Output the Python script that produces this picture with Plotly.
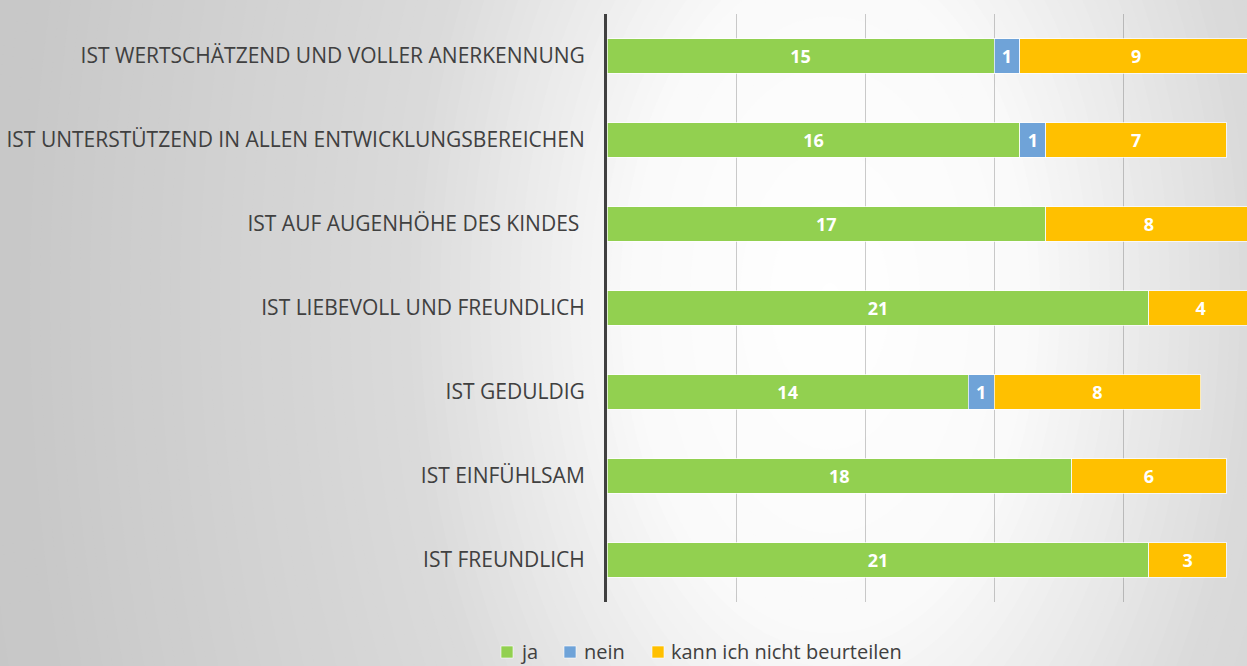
import plotly.graph_objects as go
import numpy as np

categories = [
    "IST WERTSCHÄTZEND UND VOLLER ANERKENNUNG",
    "IST UNTERSTÜTZEND IN ALLEN ENTWICKLUNGSBEREICHEN",
    "IST AUF AUGENHÖHE DES KINDES ",
    "IST LIEBEVOLL UND FREUNDLICH",
    "IST GEDULDIG",
    "IST EINFÜHLSAM",
    "IST FREUNDLICH",
]
ja = [15, 16, 17, 21, 14, 18, 21]
nein = [1, 1, 0, 0, 1, 0, 0]
kann = [9, 7, 8, 4, 8, 6, 3]

series_names = ["ja", "nein", "kann ich nicht beurteilen"]
series_values = [ja, nein, kann]
series_colors = ["#92d050", "#6fa3d8", "#ffc000"]

W, H = 1247, 666
L, R, T, B = 607, 0, 14, 64
pw, ph = W - L - R, H - T - B


def px_x(px):
    return (px - L) / pw


def px_y(py):
    return (H - B - py) / ph


fig = go.Figure()
for name, vals, col in zip(series_names, series_values, series_colors):
    fig.add_trace(go.Bar(
        y=categories, x=[v if v else None for v in vals], name=name,
        orientation="h", marker=dict(color=col, line=dict(color="rgba(255,255,255,0.7)", width=1)),
        text=[str(v) if v else "" for v in vals], textposition="inside",
        insidetextanchor="middle", textangle=0, constraintext="none",
        insidetextfont=dict(family="Open Sans", size=18, color="white", weight="bold"),
        hoverinfo="skip", showlegend=False,
    ))

# radial (elliptical) gradient background using concentric ellipses (paper coords)
shapes = []
cx, cy = 830, 300
yscale = 1 / 0.6
stop_d = [0, 200, 430, 820, 1200]
stop_g = [255, 250, 218, 200, 194]
steps = 120
for i in range(steps):
    r = 1200 * (1 - i / steps)
    g = int(round(np.interp(r, stop_d, stop_g)))
    ry = r * yscale
    shapes.append(dict(type="circle", xref="paper", yref="paper",
                       x0=px_x(cx - r), x1=px_x(cx + r),
                       y0=px_y(cy + ry), y1=px_y(cy - ry),
                       fillcolor=f"rgb({g},{g},{g})", line=dict(width=0), layer="below"))

# legend drawn as swatches + text
legend_swatch_x = [501, 564, 652]
legend_text_x = [518, 582, 669]
annotations = []
for name, col, sx, tx in zip(series_names, series_colors, legend_swatch_x, legend_text_x):
    shapes.append(dict(type="rect", xref="paper", yref="paper",
                       x0=px_x(sx), x1=px_x(sx + 12), y0=px_y(658), y1=px_y(646),
                       fillcolor=col, line=dict(color="rgba(255,255,255,0.6)", width=1), layer="above"))
    annotations.append(dict(text=name, xref="paper", yref="paper", x=px_x(tx), y=px_y(651),
                            xanchor="left", yanchor="middle", showarrow=False,
                            font=dict(family="Open Sans", size=20, color="#404040")))

fig.update_layout(
    width=W, height=H,
    barmode="stack", bargap=0.595,
    margin=dict(l=L, r=R, t=T, b=B, autoexpand=False),
    paper_bgcolor="#c2c2c2", plot_bgcolor="rgba(0,0,0,0)",
    shapes=shapes, annotations=annotations,
    font=dict(family="Open Sans", color="#404040"),
    xaxis=dict(range=[0, 24.8], dtick=5, showticklabels=False, showgrid=True,
               gridcolor="rgba(0,0,0,0.2)", gridwidth=1, zeroline=False, fixedrange=True),
    yaxis=dict(autorange="reversed", showline=True, linecolor="#404040", linewidth=3,
               ticks="", ticklabelstandoff=15, tickfont=dict(size=21, color="#404040"),
               showgrid=False),
    showlegend=False,
)

fig.write_html("out.html", config={"displayModeBar": False},
               post_script="document.body.style.margin='0px';")
